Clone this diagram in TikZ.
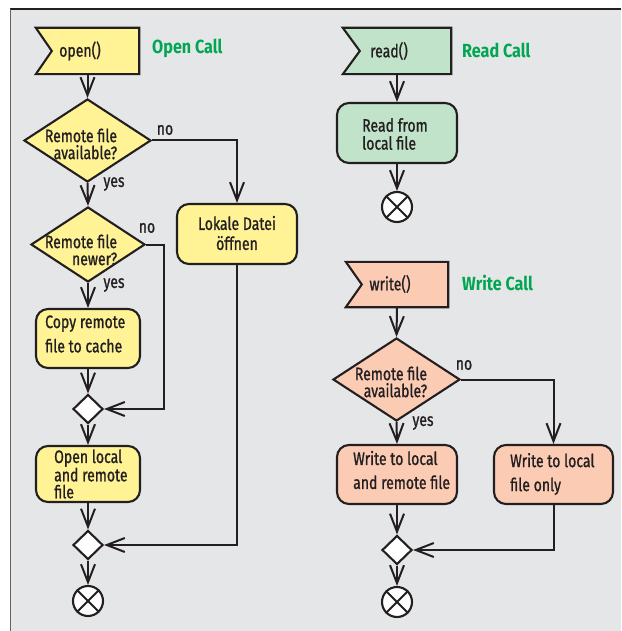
\documentclass[tikz,border=0pt]{standalone}
\usepackage{fontspec}
\setmainfont{Fira Sans}[FakeStretch=0.78]
\newfontfamily\bodyfont{Fira Sans}[FakeStretch=0.78,FakeBold=1]
\newfontfamily\titlefont{Fira Sans}[FakeStretch=0.85]
\usetikzlibrary{shapes.geometric,arrows.meta}
\definecolor{bgc}{RGB}{229,230,232}
\definecolor{ink}{RGB}{35,31,32}
\definecolor{yel}{RGB}{255,243,150}
\definecolor{grn}{RGB}{192,227,201}
\definecolor{sal}{RGB}{252,203,180}
\definecolor{ttl}{RGB}{0,166,81}
\tikzset{
  txt/.style={font=\bodyfont\fontsize{18}{17}\selectfont, text=ink, inner sep=0pt},
  title/.style={font=\titlefont\fontsize{19}{18}\selectfont\bfseries, text=ttl, inner sep=0pt, anchor=west},
  flagbox/.style={inner sep=0pt, minimum width=#1, minimum height=46pt},
  flagline/.style={draw=ink, line width=2.1pt},
  actbox/.style={draw=ink, line width=2.1pt, rounded corners=12pt, inner sep=0pt},
  decide/.style={diamond, draw=ink, line width=2.1pt, inner sep=0pt},
  merge/.style={diamond, draw=ink, fill=white, line width=2.1pt, inner sep=0pt, minimum width=30pt, minimum height=29pt},
  endc/.style={circle, draw=ink, fill=white, line width=2.1pt, inner sep=0pt, minimum size=30pt},
  xline/.style={draw=ink, line width=2pt},
  conn/.style={draw=ink, line width=2pt, -{Straight Barb[length=18pt,width=14pt]}},
}
\begin{document}
\begin{tikzpicture}[x=1pt,y=-1pt]
\useasboundingbox (0,0) rectangle (621,631);
\fill[bgc] (10,9) rectangle (621,631);
\draw[ink, line width=1.3pt] (10,9) -- (621,9);
\draw[ink!70, line width=0.8pt] (10,9) -- (10,631);

% ---------------- Open call ----------------
\node[flagbox=103pt] (open) at (87.5,51) {};
\filldraw[flagline, fill=yel] (open.north west) -- (open.north east) -- (open.south east) -- (open.south west) -- ([xshift=16pt]open.west) -- cycle;
\node[txt] (openT) at (80,51) {open()};
\node[title] (openC) at (152,48) {Open Call};

\node[decide, fill=yel, minimum width=127pt, minimum height=83pt] (d1) at (87.5,140.5) {};
\node[txt, align=right] (d1T) at (81,144) {Remote file\\available?};

\node[decide, fill=yel, minimum width=114pt, minimum height=75pt] (d2) at (88,244.5) {};
\node[txt, align=right] (d2T) at (81,250) {Remote file\\newer?};

\node[actbox, fill=yel, minimum width=104pt, minimum height=59pt] (copy) at (88,338.5) {};
\node[txt, align=left, anchor=west] (copyT) at (45,334) {Copy remote\\[6pt]file to cache};

\node[merge] (m1) at (88,409) {};

\node[actbox, fill=yel, minimum width=104pt, minimum height=56pt] (ol) at (88,474) {};
\node[txt, align=left, anchor=west] (olT) at (54,474) {Open local\\and remote\\file};

\node[merge] (m2) at (88,545) {};
\node[endc] (e1) at (88,601) {};
\draw[xline] (e1.45) -- (e1.225) (e1.135) -- (e1.315);

\node[actbox, fill=yel, minimum width=120pt, minimum height=60pt] (lok) at (237,234) {};
\node[txt, align=center] (lokT) at (237,233) {Lokale Datei\\[3pt]öffnen};

\node[txt] (no1) at (165,130) {no};
\node[txt] (yes1) at (114,184) {yes};
\node[txt] (no2) at (147,228) {no};
\node[txt] (yes2) at (114,285) {yes};

\draw[conn] (open.south) -- (d1.north);
\draw[conn] (d1.south) -- (d2.north);
\draw[conn] (d1.east) -| (lok.north);
\draw[conn] (d2.south) -- (copy.north);
\draw[conn] (d2.east) -- ++(18,0) |- (m1.east);
\draw[conn] (copy.south) -- (m1.north);
\draw[conn] (m1.south) -- (ol.north);
\draw[conn] (ol.south) -- (m2.north);
\draw[conn] (lok.south) |- (m2.east);
\draw[conn] (m2.south) -- (e1.north);

% ---------------- Read call ----------------
\node[flagbox=108pt] (rflag) at (397,51) {};
\filldraw[flagline, fill=grn] (rflag.north west) -- (rflag.north east) -- (rflag.south east) -- (rflag.south west) -- ([xshift=17pt]rflag.west) -- cycle;
\node[txt] (rflagT) at (389,51) {read()};
\node[title] (readC) at (462,50) {Read Call};

\node[actbox, fill=grn, minimum width=120pt, minimum height=60pt] (rb) at (397,133) {};
\node[txt, align=left, anchor=west] (rbT) at (362,134) {Read from\\[1pt]local file};

\node[endc] (e2) at (397,207) {};
\draw[xline] (e2.45) -- (e2.225) (e2.135) -- (e2.315);

\draw[conn] (rflag.south) -- (rb.north);
\draw[conn] (rb.south) -- (e2.north);

% ---------------- Write call ----------------
\node[flagbox=102pt, minimum height=45pt] (wflag) at (397,284.5) {};
\filldraw[flagline, fill=sal] (wflag.north west) -- (wflag.north east) -- (wflag.south east) -- (wflag.south west) -- ([xshift=16pt]wflag.west) -- cycle;
\node[txt] (wflagT) at (390,284) {write()};
\node[title] (writeC) at (462,283) {Write Call};

\node[decide, fill=sal, minimum width=127pt, minimum height=83pt] (wd) at (396.5,379.5) {};
\node[txt, align=right] (wdT) at (391,382) {Remote file\\available?};

\node[actbox, fill=sal, minimum width=120pt, minimum height=59pt] (wb) at (397,474.5) {};
\node[txt, align=left, anchor=west] (wbT) at (353,470) {Write to local\\[7pt]and remote file};

\node[actbox, fill=sal, minimum width=119pt, minimum height=59pt] (wo) at (553.5,474.5) {};
\node[txt, align=left, anchor=west] (woT) at (510,474) {Write to local\\[7pt]file only};

\node[merge] (wm) at (397,550) {};
\node[endc] (e3) at (397,602) {};
\draw[xline] (e3.45) -- (e3.225) (e3.135) -- (e3.315);

\node[txt] (no3) at (464,365) {no};
\node[txt] (yes3) at (423,423) {yes};

\draw[conn] (wflag.south) -- (wd.north);
\draw[conn] (wd.south) -- (wb.north);
\draw[conn] (wd.east) -| (wo.north);
\draw[conn] (wb.south) -- (wm.north);
\draw[conn] (wo.south) |- (wm.east);
\draw[conn] (wm.south) -- (e3.north);
\end{tikzpicture}
\end{document}
